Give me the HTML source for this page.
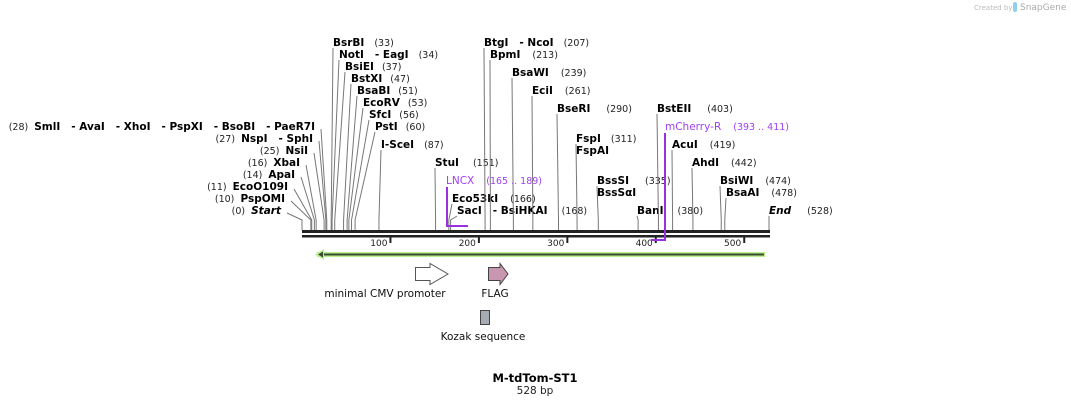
<!DOCTYPE html>
<html><head><meta charset="utf-8">
<style>
html,body{margin:0;padding:0;background:#fff;}
svg{display:block;font-family:"DejaVu Sans","Liberation Sans",sans-serif;}
text{white-space:pre;}
.n{font-weight:bold;font-size:10.5px;fill:#000;}
.p{font-size:9.5px;fill:#222;}
.ln{stroke:#777;stroke-width:1;fill:none;}
</style></head>
<body>
<svg id="map" width="1071" height="406" viewBox="0 0 1071 406">
<text x="974" y="10" font-size="7" fill="#bbb">Created by</text>
<rect x="1013" y="2" width="4" height="10" rx="2" fill="#8fd0f0"/>
<text x="1020" y="10" font-size="9" fill="#aaa">SnapGene</text>
<g id="sites"></g>
<g id="axis"></g>
<polyline points="447,187 447,226 468,226" stroke="#9a2fe0" stroke-width="2" fill="none"/>
<text x="446" y="184" font-size="10.5" fill="#a040f0">LNCX<tspan dx="12" font-size="9.5">(165 .. 189)</tspan></text>
<polyline points="665,133 665,240 651,240" stroke="#9a2fe0" stroke-width="2" fill="none"/>
<text x="665" y="130" font-size="10.5" fill="#a040f0">mCherry-R<tspan dx="12" font-size="9.5">(393 .. 411)</tspan></text>
<path d="M317,252 L765,252 L765,257 L317,257 Z" fill="#b8f08a"/>
<line x1="322" y1="254.5" x2="764" y2="254.5" stroke="#3a4a34" stroke-width="2"/>
<polygon points="315,254.5 324,249 324,260" fill="#b8f08a"/>
<polygon points="318,254.5 323,251.5 323,257.5" fill="#3a4a34"/>
<polygon points="415.5,267.5 430,267.5 430,263.5 448,274 430,284.5 430,280.5 415.5,280.5" fill="#fff" stroke="#555"/>
<text x="385" y="297" font-size="10.5" text-anchor="middle" fill="#111">minimal CMV promoter</text>
<polygon points="488.5,267.5 500,267.5 500,263.5 508,274 500,284.5 500,280.5 488.5,280.5" fill="#c996b0" stroke="#444"/>
<text x="495" y="297" font-size="10.5" text-anchor="middle" fill="#111">FLAG</text>
<rect x="480.5" y="310.5" width="9" height="14" fill="#a6acb4" stroke="#444"/>
<text x="483" y="340" font-size="10.5" text-anchor="middle" fill="#111">Kozak sequence</text>
<text x="535" y="382" font-size="11.5" font-weight="bold" text-anchor="middle">M-tdTom-ST1</text>
<text x="535" y="394" font-size="10.5" text-anchor="middle" fill="#222">528 bp</text>
</svg>
<script>
const seqLength = 528;
const tickValues = [100, 200, 300, 400, 500];
const siteNames = ["Start","PspOMI","EcoO109I","ApaI","XbaI","NsiI","NspI - SphI","SmlI - AvaI - XhoI - PspXI - BsoBI - PaeR7I",
 "BsrBI","NotI - EagI","BsiEI","BstXI","BsaBI","EcoRV","SfcI","PstI","I-SceI","StuI","Eco53kI","SacI - BsiHKAI",
 "BtgI - NcoI","BpmI","BsaWI","EciI","BseRI","FspI","BssSI","BanI","BstEII","AcuI","AhdI","BsiWI","BsaAI","End"];
const sitePositions = [0,10,11,14,16,25,27,28,33,34,37,47,51,53,56,60,87,151,166,168,207,213,239,261,290,311,335,380,403,419,442,474,478,528];
const extraNames = {"FspI":"FspAI","BssSI":"BssSαI"};

const X0 = 302, X1 = 769;
function xScale(bp){ return X0 + bp*(X1-X0)/seqLength; }

const layout = {
 "Start":[281,214,"L"],"PspOMI":[285,202,"L"],"EcoO109I":[288,190,"L"],"ApaI":[295,178,"L"],"XbaI":[300,166,"L"],
 "NsiI":[308,154,"L"],"NspI - SphI":[313,142,"L"],"SmlI - AvaI - XhoI - PspXI - BsoBI - PaeR7I":[315,130,"L"],
 "BsrBI":[333,46],"NotI - EagI":[339,58],"BsiEI":[345,70],"BstXI":[351,82],"BsaBI":[357,94],"EcoRV":[363,106],
 "SfcI":[369,118],"PstI":[375,130],"I-SceI":[381,148],"StuI":[435,166],"Eco53kI":[452,202],"SacI - BsiHKAI":[457,214],
 "BtgI - NcoI":[484,46],"BpmI":[490,58],"BsaWI":[512,76],"EciI":[532,94],"BseRI":[557,112],"FspI":[576,142],
 "BssSI":[597,184],"BanI":[637,214],"BstEII":[657,112],"AcuI":[672,148],"AhdI":[692,166],"BsiWI":[720,184],
 "BsaAI":[726,196],"End":[769,214]
};
const numOffsets = {"BsrBI":10,"NotI - EagI":10,"BsiEI":8,"BstXI":8,"BsaBI":8,"EcoRV":8,"SfcI":8,"PstI":8,"I-SceI":10,
 "StuI":14,"Eco53kI":12,"SacI - BsiHKAI":14,"BtgI - NcoI":10,"BpmI":12,"BsaWI":12,"EciI":12,"BseRI":16,"FspI":10,
 "BssSI":16,"BanI":14,"BstEII":16,"AcuI":12,"AhdI":12,"BsiWI":12,"BsaAI":12,"End":16};

const NS = "http://www.w3.org/2000/svg";
const g = document.getElementById("sites");
siteNames.forEach((name,i)=>{
  const bp = sitePositions[i];
  const sx = xScale(bp);
  const L = layout[name];
  const lx = L[0], ly = L[1];
  const line = document.createElementNS(NS,"polyline");
  let pts;
  if(L[2]==="L"){ pts = (lx+6)+","+(ly-1)+" "+sx+","+220+" "+sx+",230"; }
  else { pts = lx+","+(ly+2)+" "+sx+","+220+" "+sx+",230"; }
  line.setAttribute("points",pts);
  line.setAttribute("class","ln");
  
  
  g.appendChild(line);
  const t = document.createElementNS(NS,"text");
  
  
  t.setAttribute("y", ly);
  const nm = (name==="Start"||name==="End") ? "font-style:italic;" : "";
  if(L[2]==="L"){
    t.setAttribute("x", lx); t.setAttribute("text-anchor","end");
    t.innerHTML = '<tspan class="p">('+bp+')  </tspan><tspan class="n" style="'+nm+'">'+name.replace(/ - /g,'   - ')+'</tspan>';
  } else {
    t.setAttribute("x", lx);
    t.innerHTML = '<tspan class="n" style="'+nm+'">'+name.replace(/ - /g,'   - ')+'</tspan><tspan class="p" dx="'+(numOffsets[name]||12)+'">('+bp+')</tspan>';
  }
  g.appendChild(t);
  if(extraNames[name]){
    const t2 = document.createElementNS(NS,"text");
    
    
    t2.setAttribute("x", lx); t2.setAttribute("y", ly+12);
    t2.setAttribute("class","n");
    t2.textContent = extraNames[name];
    g.appendChild(t2);
  }
});

const ax = document.getElementById("axis");
const r1 = document.createElementNS(NS,"rect");
r1.setAttribute("x",X0); r1.setAttribute("y",230); r1.setAttribute("width",X1-X0+1); r1.setAttribute("height",3); r1.setAttribute("fill","#222");


ax.appendChild(r1);
const r2 = document.createElementNS(NS,"rect");
r2.setAttribute("x",X0); r2.setAttribute("y",235); r2.setAttribute("width",X1-X0+1); r2.setAttribute("height",2.5); r2.setAttribute("fill","#222");


ax.appendChild(r2);
tickValues.forEach(v=>{
  const x = xScale(v);
  const tk = document.createElementNS(NS,"rect");
  tk.setAttribute("x",x-1); tk.setAttribute("y",237); tk.setAttribute("width",2); tk.setAttribute("height",6); tk.setAttribute("fill","#222");
  
  
  ax.appendChild(tk);
  const tl = document.createElementNS(NS,"text");
  tl.setAttribute("x",x-3); tl.setAttribute("y",246); tl.setAttribute("text-anchor","end"); tl.setAttribute("font-size","9"); tl.setAttribute("fill","#222");
  
  
  tl.textContent = v;
  ax.appendChild(tl);
});
</script>
</body></html>
